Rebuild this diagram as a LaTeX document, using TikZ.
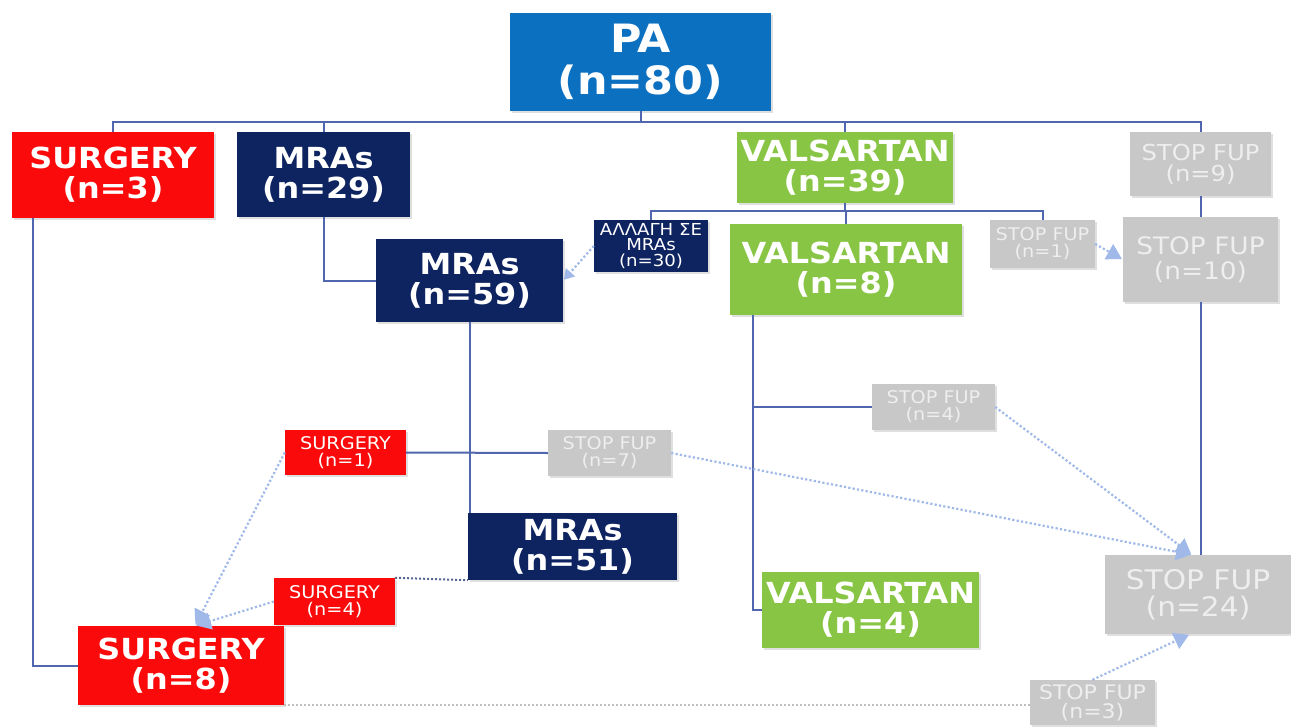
\documentclass[tikz,border=0pt]{standalone}
\usepackage{fontspec}
\newfontfamily\bxfont[FakeStretch=1.1]{DejaVu Sans}
\usetikzlibrary{arrows.meta,shadows}

\definecolor{pablue}{RGB}{12,112,193}
\definecolor{boxred}{RGB}{250,10,10}
\definecolor{boxnavy}{RGB}{14,36,96}
\definecolor{boxgreen}{RGB}{136,197,68}
\definecolor{boxgray}{RGB}{200,200,200}
\definecolor{graytext}{RGB}{238,238,238}
\definecolor{linkblue}{RGB}{80,102,174}
\definecolor{flowblue}{RGB}{160,185,232}

\tikzset{
  box/.style={rectangle, inner sep=0pt, align=center, text=white,
    drop shadow={opacity=0.25, shadow xshift=1.5pt, shadow yshift=-2pt}},
  redbox/.style={box, fill=boxred},
  navybox/.style={box, fill=boxnavy},
  greenbox/.style={box, fill=boxgreen},
  graybox/.style={box, fill=boxgray, text=graytext},
  big/.style={font=\bxfont\bfseries\fontsize{29}{30}\selectfont},
  small/.style={font=\bxfont\fontsize{17.5}{17}\selectfont},
  link/.style={draw=linkblue, line width=2pt},
  flow/.style={draw=flowblue, line width=2.2pt, dash pattern=on 2.2pt off 2.2pt,
    -{Triangle[width=17pt,length=15pt,fill=flowblue]}, shorten >=1pt},
}

\begin{document}
\begin{tikzpicture}[x=1pt, y=-1pt]
\useasboundingbox (0,0) rectangle (1291,726);

% ---- boxes ----
\node[box, fill=pablue, minimum width=261pt, minimum height=98pt,
  font=\bxfont\bfseries\fontsize{39}{42}\selectfont] (pa) at (640.5,62) {PA\\(n=80)};

\node[redbox, big, minimum width=202pt, minimum height=86pt] (s3) at (113,175) {SURGERY\\(n=3)};
\node[navybox, big, minimum width=173pt, minimum height=85pt] (m29) at (323.5,174.5) {MRAs\\(n=29)};
\node[greenbox, big, minimum width=216pt, minimum height=71pt] (v39) at (845,167.5) {VALSARTAN\\(n=39)};
\node[graybox, minimum width=141pt, minimum height=64pt,
  font=\bxfont\fontsize{22}{21}\selectfont] (f9) at (1200.5,164) {STOP FUP\\(n=9)};

\node[navybox, minimum width=114pt, minimum height=52pt,
  font=\bxfont\fontsize{16.5}{15.5}\selectfont] (alla) at (651,246) {ΑΛΛΑΓΗ ΣΕ\\MRAs\\(n=30)};
\node[greenbox, big, minimum width=232pt, minimum height=91pt] (v8) at (846,269.5) {VALSARTAN\\(n=8)};
\node[graybox, small, minimum width=105pt, minimum height=48pt] (f1) at (1042.5,244) {STOP FUP\\(n=1)};
\node[graybox, minimum width=155pt, minimum height=85pt,
  font=\bxfont\fontsize{24}{25}\selectfont] (f10) at (1200.5,259.5) {STOP FUP\\(n=10)};

\node[navybox, big, minimum width=187pt, minimum height=83pt] (m59) at (469.5,280.5) {MRAs\\(n=59)};

\node[graybox, small, minimum width=123pt, minimum height=46pt] (f4) at (933.5,407) {STOP FUP\\(n=4)};
\node[redbox, small, minimum width=121pt, minimum height=45pt] (s1) at (345.5,452.5) {SURGERY\\(n=1)};
\node[graybox, small, minimum width=123pt, minimum height=46pt] (f7) at (609.5,453) {STOP FUP\\(n=7)};

\node[navybox, big, minimum width=209pt, minimum height=67pt] (m51) at (572.5,546.5) {MRAs\\(n=51)};
\node[greenbox, big, minimum width=217pt, minimum height=76pt] (v4) at (870.5,610) {VALSARTAN\\(n=4)};
\node[graybox, minimum width=186pt, minimum height=79pt,
  font=\bxfont\fontsize{27}{27}\selectfont] (f24) at (1198,594.5) {STOP FUP\\(n=24)};

\node[redbox, small, minimum width=121pt, minimum height=47pt] (s4) at (334.5,601.5) {SURGERY\\(n=4)};
\node[redbox, big, minimum width=206pt, minimum height=79pt] (s8) at (181,665.5) {SURGERY\\(n=8)};
\node[graybox, minimum width=125pt, minimum height=45pt,
  font=\bxfont\fontsize{20}{19}\selectfont] (f3) at (1092.5,702.5) {STOP FUP\\(n=3)};

% ---- tree connectors ----
\coordinate (bus) at (0,122);
\draw[link] (pa.south) -- (pa.south |- bus);
\draw[link] (s3.north) -- (s3.north |- bus) -- (f9.north |- bus) -- (f9.north);
\draw[link] (m29.north) -- (m29.north |- bus);
\draw[link] (v39.north) -- (v39.north |- bus);

\coordinate (bus2) at (0,211);
\draw[link] (v39.south) -- (v39.south |- bus2);
\draw[link] (alla.north) -- (alla.north |- bus2) -- (f1.north |- bus2) -- (f1.north);
\draw[link] (v8.north) -- (v8.north |- bus2);

\draw[link] (f9.south) -- (f9.south |- f10.north);
\draw[link] (f10.south) -- (f10.south |- f24.north);

\draw[link] (m29.south) |- (m59.west);
\draw[link] (m59.south) -- (m59.south |- m51.north);
\draw[link] (s1.east) -- (f7.west);

\coordinate (vtrunk) at ([xshift=23pt]v8.south west);
\draw[link] (vtrunk) |- (v4.west);
\draw[link] (f4.west) -- (f4.west -| vtrunk);

\coordinate (strunk) at ([xshift=21pt]s3.south west);
\draw[link] (strunk) |- (s8.west);

% ---- dotted flows ----
\draw[flow, -{Triangle[width=12pt,length=10pt,fill=flowblue]}] (alla.west) -- (m59.east);
\draw[flow] (f1.east) -- (f10.west);
\draw[flow] (f4.east) -- ([xshift=-6pt]f24.north);
\draw[flow] (f7.east) -- ([xshift=-6pt]f24.north);
\draw[flow] (f3.north) -- ([xshift=-8pt]f24.south);
\draw[flow] (s1.west) -- ([xshift=14pt]s8.north);
\draw[flow] (s4.west) -- ([xshift=14pt]s8.north);

\draw[draw=boxnavy!70, line width=2pt, dash pattern=on 2pt off 2pt] (s4.north east) -- (m51.south west);
\draw[draw=black!25, line width=1.8pt, dash pattern=on 2pt off 2pt] (s8.south east) -- (s8.south east -| f3.west);
\end{tikzpicture}
\end{document}
